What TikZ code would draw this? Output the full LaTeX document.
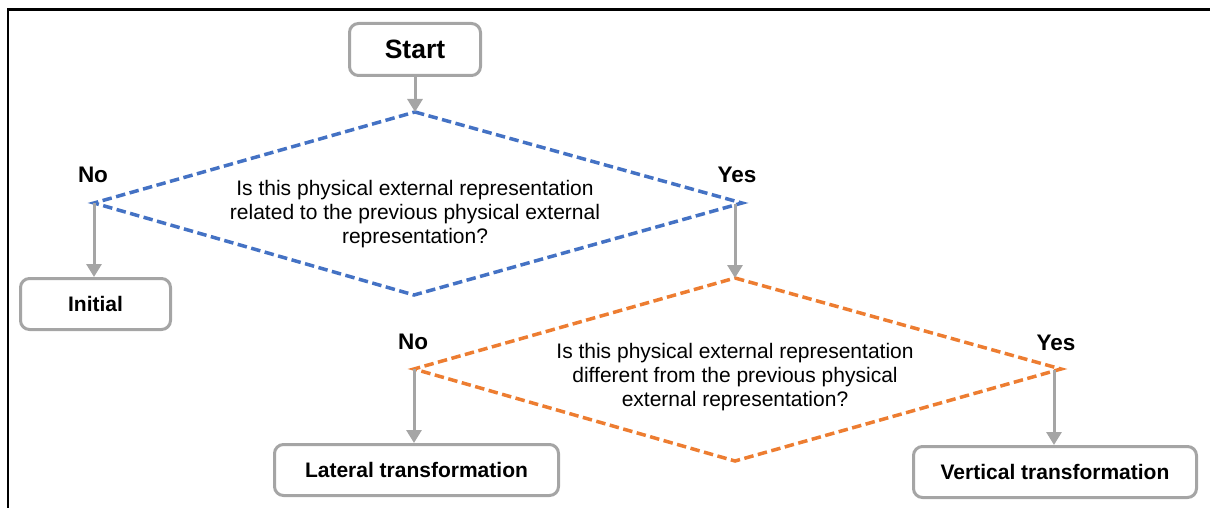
\documentclass[tikz,border=0pt]{standalone}
\usepackage{fontspec}
\setmainfont{Liberation Sans}
\usetikzlibrary{arrows.meta}
\definecolor{flowgray}{HTML}{A5A5A5}
\definecolor{qblue}{HTML}{4472C4}
\definecolor{qorange}{HTML}{ED7D31}

\begin{document}
\begin{tikzpicture}[x=1pt,y=-1pt,
  box/.style={draw=flowgray, line width=3pt, rounded corners=9pt, fill=white,
    inner sep=0pt, font=\fontsize{21}{24}\selectfont\bfseries},
  flow/.style={draw=flowgray, line width=3pt, -{Triangle[width=15pt,length=13pt]}},
  question/.style={dash pattern=on 9.5pt off 4.5pt, line width=3.5pt, line join=miter},
  qtext/.style={align=center, inner sep=0pt, font=\fontsize{21}{24}\selectfont},
  answer/.style={font=\fontsize{22.5}{26}\selectfont\bfseries, inner sep=0pt}]

\useasboundingbox (0,0) rectangle (1210,508);

% page frame (top and left rules)
\draw[line width=2.5pt] (8,508) -- (8,9.5) -- (1210,9.5);

% terminal and outcome boxes
\node[box, font=\fontsize{26.5}{30}\selectfont\bfseries,
      minimum width=131pt, minimum height=52pt] (start) at (415,49.5) {Start};
\node[box, minimum width=150pt, minimum height=51pt] (initial) at (95.5,304) {Initial};
\node[box, minimum width=284pt, minimum height=51pt] (lateral) at (416.5,470) {Lateral transformation};
\node[box, minimum width=283pt, minimum height=51pt] (vertical) at (1055,472) {Vertical transformation};

% first decision
\coordinate (d1t) at (415,112);
\coordinate (d1l) at (94,203);
\coordinate (d1r) at (742,203);
\coordinate (d1b) at (414,295);
\coordinate (d1yes) at (735,204);
\draw[question, draw=qblue] (d1t) -- (d1r) -- (d1b) -- (d1l) -- cycle;
\node[qtext] (q1) at (415,214.5)
  {Is this physical external representation\\related to the previous physical external\\representation?};
\node[answer] (no1) at (93,175) {No};
\node[answer] (yes1) at (737,175) {Yes};

% second decision
\coordinate (d2t) at (735,278);
\coordinate (d2l) at (414,369);
\coordinate (d2r) at (1061,369);
\coordinate (d2b) at (735,461);
\coordinate (d2yes) at (1054,370);
\draw[question, draw=qorange] (d2t) -- (d2r) -- (d2b) -- (d2l) -- cycle;
\node[qtext] (q2) at (735,377.5)
  {Is this physical external representation\\different from the previous physical\\external representation?};
\node[answer] (no2) at (413,342) {No};
\node[answer] (yes2) at (1056,343) {Yes};

% connectors
\draw[flow] (start.south) -- (d1t);
\draw[flow] (d1l) -- (d1l |- initial.north);
\draw[flow] (d1yes) -- (d2t);
\draw[flow] (d2l) -- (d2l |- lateral.north);
\draw[flow] (d2yes) -- (d2yes |- vertical.north);
\end{tikzpicture}
\end{document}
